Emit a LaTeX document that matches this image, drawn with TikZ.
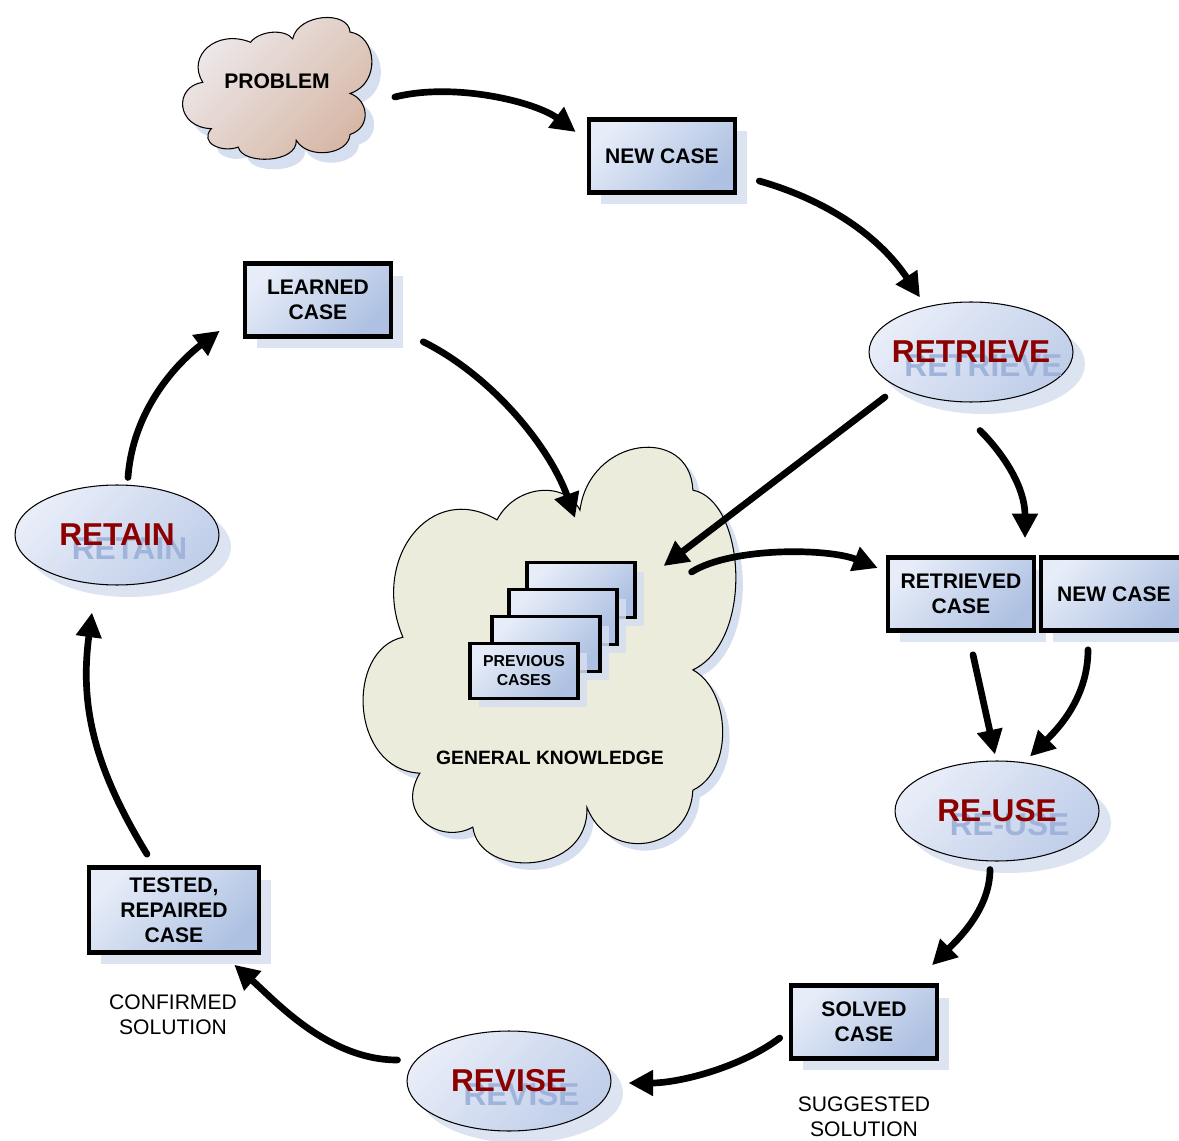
\documentclass[tikz,border=0pt]{standalone}
\usepackage{fontspec}
\setmainfont{Liberation Sans}
\usetikzlibrary{shapes.geometric,shadows,arrows.meta}

\definecolor{boxlight}{RGB}{230,236,248}
\definecolor{boxdark}{RGB}{174,193,226}
\definecolor{phaselight}{RGB}{232,237,248}
\definecolor{phasedark}{RGB}{192,206,233}
\definecolor{shadowblue}{RGB}{214,223,240}
\definecolor{phasered}{RGB}{140,0,0}
\definecolor{echoblue}{RGB}{160,180,219}
\definecolor{gkfill}{RGB}{236,236,221}
\definecolor{problight}{RGB}{238,235,238}
\definecolor{probdark}{RGB}{214,182,164}

% phase name with its pale offset copy behind it
\newcommand\phaseword[1]{\makebox[0pt]{\rlap{\kern2.5mm\smash{\raisebox{-2.8mm}{\color{echoblue}#1}}}{\color{phasered}#1}}}

% cloud outline in a unit box (y grows downwards)
\newcommand\cloudoutline{(0.362,0.188) .. controls (0.409,0.106) and (0.539,0.094) .. (0.578,0.165)
 .. controls (0.604,-0.01) and (0.865,-0.035) .. (0.872,0.118)
 .. controls (1.008,0.141) and (1.034,0.471) .. (0.872,0.541)
 .. controls (0.969,0.588) and (0.982,0.776) .. (0.872,0.824)
 .. controls (0.865,0.965) and (0.656,1.0) .. (0.596,0.864)
 .. controls (0.604,1.024) and (0.318,1.035) .. (0.299,0.911)
 .. controls (0.214,0.953) and (0.096,0.882) .. (0.161,0.784)
 .. controls (-0.021,0.776) and (-0.034,0.494) .. (0.117,0.464)
 .. controls (0.031,0.282) and (0.188,0.094) .. (0.362,0.188) -- cycle}

\begin{document}
\begin{tikzpicture}[x=0.02cm,y=-0.02cm,
  boxbase/.style={draw=black, top color=boxlight, bottom color=boxdark, shading angle=45,
    inner sep=0pt, align=center},
  casebox/.style={boxbase, line width=2.6pt, minimum width=2.92cm, minimum height=1.46cm,
    font=\fontsize{12}{14.2}\selectfont\bfseries,
    drop shadow={shadow xshift=0.24cm, shadow yshift=-0.24cm, fill=shadowblue, opacity=0.85}},
  smallcase/.style={boxbase, line width=1.8pt, minimum width=2.16cm, minimum height=1.1cm,
    font=\fontsize{9}{10.8}\selectfont\bfseries,
    drop shadow={shadow xshift=0.18cm, shadow yshift=-0.18cm, fill=shadowblue, opacity=0.85}},
  phase/.style={ellipse, draw=black, line width=0.6pt, top color=phaselight, bottom color=phasedark,
    shading angle=45, minimum width=4.08cm, minimum height=2cm, inner sep=0pt,
    font=\fontsize{18}{20}\selectfont\bfseries,
    drop shadow={shadow xshift=0.24cm, shadow yshift=-0.24cm, fill=shadowblue, opacity=0.85}},
  flow/.style={line width=3.8pt, line cap=round, -{Triangle[length=14pt,width=14pt]}},
  note/.style={align=center, font=\fontsize{12}{14.2}\selectfont}
]
\useasboundingbox (0,0) rectangle (1179,1141);

% problem cloud
\begin{scope}[shift={(189,25)}, xscale=195, yscale=145]
  \fill[shadowblue] \cloudoutline;
\end{scope}
\begin{scope}[shift={(180,15)}, xscale=195, yscale=145]
  \draw[line width=0.6pt, top color=problight, bottom color=probdark, shading angle=45] \cloudoutline;
\end{scope}
\node[font=\fontsize{12}{14}\selectfont\bfseries, minimum width=3.9cm, minimum height=2.9cm] (problem) at (277,81) {PROBLEM};

% general knowledge cloud
\begin{scope}[shift={(365,447)}, xscale=384, yscale=425]
  \fill[shadowblue] \cloudoutline;
\end{scope}
\begin{scope}[shift={(358,440)}, xscale=384, yscale=425]
  \filldraw[fill=gkfill, draw=black, line width=0.6pt] \cloudoutline;
\end{scope}
\node[font=\fontsize{11}{13}\selectfont\bfseries] (gk) at (550,758) {GENERAL KNOWLEDGE};

% stack of previous cases
\node[smallcase] (prevA) at (581,590) {};
\node[smallcase] (prevB) at (563,617) {};
\node[smallcase] (prevC) at (546,644) {};
\node[smallcase] (prevD) at (524,671) {PREVIOUS\\CASES};

% cases
\node[casebox] (newcase) at (662,156) {NEW CASE};
\node[casebox] (learned) at (318,300) {LEARNED\\CASE};
\node[casebox] (retrieved) at (961,594) {RETRIEVED\\CASE};
\node[casebox] (newcasetwo) at (1114,594) {NEW CASE};
\node[casebox] (solved) at (864,1022) {SOLVED\\CASE};
\node[casebox, minimum width=3.4cm, minimum height=1.7cm] (tested) at (174,910) {TESTED,\\REPAIRED\\CASE};

% phases
\node[phase] (retrieve) at (971,352) {\phaseword{RETRIEVE}};
\node[phase] (retain) at (117,535) {\phaseword{RETAIN}};
\node[phase] (reuse) at (997,811) {\phaseword{RE-USE}};
\node[phase] (revise) at (509,1081) {\phaseword{REVISE}};

% solution notes
\node[note] (suggested) at (864,1117) {SUGGESTED\\SOLUTION};
\node[note] (confirmed) at (173,1015) {CONFIRMED\\SOLUTION};

% the cycle
\draw[flow] ([shift={(20,16)}]problem.east) .. controls +(60,-15) and +(-40,-30) .. ([shift={(-11,-24)}]newcase.west);
\draw[flow] ([shift={(22,25)}]newcase.east) .. controls +(70,20) and +(-40,-60) .. ([shift={(-51,-4)}]retrieve.north);
\draw[flow] ([shift={(9,28)}]retrieve.south) .. controls +(25,25) and +(0,-50) .. ([shift={(64,-17)}]retrieved.north);
\draw[flow] ([shift={(-86,45)}]retrieve.center) -- ([shift={(27,-24)}]prevA.east);
\draw[flow] ([shift={(55,-18)}]prevA.east) .. controls +(40,-25) and +(-50,-20) .. ([shift={(-8,-26)}]retrieved.west);
\draw[flow] ([shift={(30,3)}]learned.south east) .. controls +(70,35) and +(-25,-70) .. ([shift={(-6,-43)}]prevA.north);
\draw[flow] ([shift={(12,22)}]retrieved.south) -- ([shift={(-2,-6)}]reuse.north);
\draw[flow] ([shift={(-26,17)}]newcasetwo.south) .. controls +(0,50) and +(25,-25) .. ([shift={(33,-4)}]reuse.north);
\draw[flow] ([shift={(-7,8)}]reuse.south) .. controls +(0,40) and +(25,-25) .. ([shift={(68,-18)}]solved.north);
\draw[flow] ([shift={(-9,16)}]solved.west) .. controls +(-40,30) and +(50,0) .. ([shift={(17,2)}]revise.east);
\draw[flow] ([shift={(-9,-21)}]revise.west) .. controls +(-70,0) and +(40,35) .. ([shift={(-27,10)}]tested.south east);
\draw[flow] ([shift={(-27,-11)}]tested.north) .. controls +(-55,-90) and +(-12,90) .. ([shift={(-25,27)}]retain.south);
\draw[flow] ([shift={(11,-7)}]retain.north) .. controls +(5,-70) and +(-40,30) .. ([shift={(-23,-8)}]learned.south west);
\end{tikzpicture}
\end{document}
